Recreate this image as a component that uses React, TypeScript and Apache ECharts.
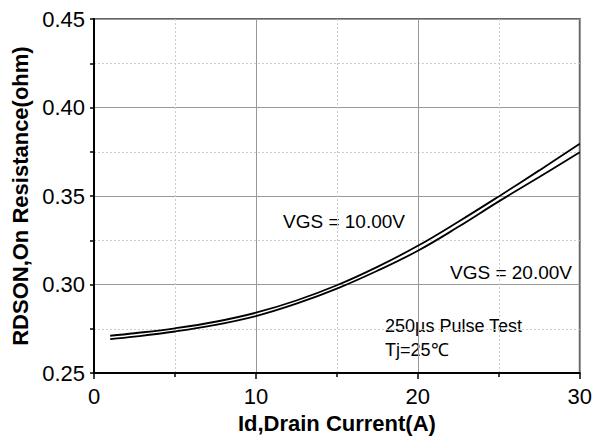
import React, { useEffect, useRef } from "react";
import * as echarts from "echarts";

const currentA = [1, 2.5, 5, 7.5, 10, 12.5, 15, 17.5, 20, 22.5, 25, 27.5, 30];
const rdsonVgs10 = [0.2711, 0.2725, 0.2753, 0.279, 0.2841, 0.291, 0.2996, 0.31, 0.3219, 0.3355, 0.3498, 0.3645, 0.3796];
const rdsonVgs20 = [0.2692, 0.2706, 0.2735, 0.2772, 0.2822, 0.2892, 0.2977, 0.3078, 0.3191, 0.3326, 0.347, 0.3607, 0.3748];
const yTicks = ["0.25", "0.30", "0.35", "0.40", "0.45"];
const xTicks = ["0", "10", "20", "30"];

const FONT = "Liberation Sans, Arial, sans-serif";

export default function App() {
  const ref = useRef<HTMLDivElement>(null);
  useEffect(() => {
    const chart = echarts.init(ref.current!, null, { renderer: "svg" });
    const mk = (ys: number[]) => currentA.map((x, i) => [x, ys[i]]);
    chart.setOption({
      animation: false,
      backgroundColor: "#fff",
      grid: { left: 94, right: 12, top: 19, bottom: 61, show: true, borderColor: "#666", borderWidth: 2, backgroundColor: "transparent" },
      xAxis: {
        type: "value", min: 0, max: 30, interval: 10,
        name: "Id,Drain Current(A)", nameLocation: "middle", nameGap: 27,
        nameTextStyle: { fontFamily: FONT, fontWeight: "bold", fontSize: 22, color: "#000" },
        axisLine: { show: true, lineStyle: { color: "#000", width: 2 } },
        axisTick: { show: true, length: 6, lineStyle: { color: "#000", width: 1.5 } },
        minorTick: { show: true, splitNumber: 2, length: 4, lineStyle: { color: "#000", width: 1.5 } },
        axisLabel: { fontFamily: FONT, fontSize: 22, color: "#000", margin: 12, formatter: (v: number) => xTicks.includes(String(v)) ? String(v) : "" },
        splitLine: { show: true, lineStyle: { color: "#999", width: 1 } },
        minorSplitLine: { show: true, lineStyle: { color: "#ccc", width: 1, type: [2, 2] } },
      },
      yAxis: {
        type: "value", min: 0.25, max: 0.45, interval: 0.05,
        name: "RDSON,On Resistance(ohm)", nameLocation: "middle", nameGap: 61,
        nameTextStyle: { fontFamily: FONT, fontWeight: "bold", fontSize: 22, color: "#000" },
        axisLine: { show: true, lineStyle: { color: "#000", width: 2 } },
        axisTick: { show: true, length: 4, lineStyle: { color: "#000", width: 1.5 } },
        minorTick: { show: true, splitNumber: 2, length: 4, lineStyle: { color: "#000", width: 1.5 } },
        axisLabel: { fontFamily: FONT, fontSize: 22, color: "#000", margin: 9, formatter: (v: number) => { const s = v.toFixed(2); return yTicks.includes(s) ? s : ""; } },
        splitLine: { show: true, lineStyle: { color: "#999", width: 1 } },
        minorSplitLine: { show: true, lineStyle: { color: "#ccc", width: 1, type: [2, 2] } },
      },
      series: [
        { name: "VGS = 10.00V", type: "line", data: mk(rdsonVgs10), smooth: 0.4, showSymbol: false, lineStyle: { color: "#000", width: 1.8 } },
        { name: "VGS = 20.00V", type: "line", data: mk(rdsonVgs20), smooth: 0.4, showSymbol: false, lineStyle: { color: "#000", width: 1.8 } },
      ],
      graphic: [
        { type: "text", left: 283, top: 212, style: { text: "VGS = 10.00V", font: `19px ${FONT}`, fill: "#000" } },
        { type: "text", left: 450, top: 263, style: { text: "VGS = 20.00V", font: `19px ${FONT}`, fill: "#000" } },
        { type: "text", left: 385, top: 317, style: { text: "250µs Pulse Test", font: `18px ${FONT}`, fill: "#000" } },
        { type: "text", left: 385, top: 341, style: { text: "Tj=25℃", font: `18px ${FONT}`, fill: "#000" } },
      ],
    });
    return () => chart.dispose();
  }, []);
  return <div ref={ref} style={{ width: 595, height: 439, position: "absolute", left: 0, top: 0 }} />;
}
